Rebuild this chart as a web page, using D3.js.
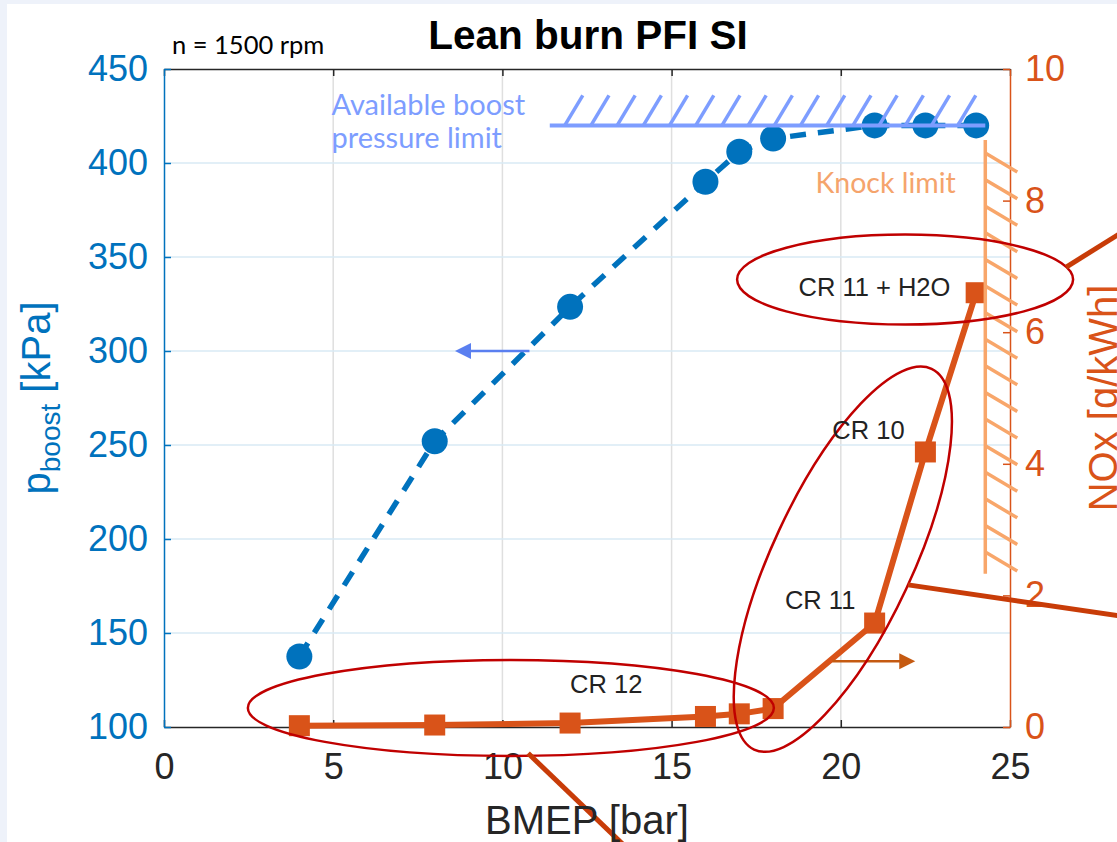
<!DOCTYPE html>
<html>
<head>
<meta charset="utf-8">
<script src="https://cdn.jsdelivr.net/npm/d3@7"></script>
<style>
  html, body { margin: 0; padding: 0; background: #eef2fa; }
  svg { display: block; }
  .sans { font-family: "Liberation Sans", Arial, Helvetica, sans-serif; }
  .cal { font-family: Lato, "Open Sans", sans-serif; }
</style>
</head>
<body>
<svg id="chart" width="1117" height="842"></svg>
<script>
// Engine operating points: brake mean effective pressure [bar]
const bmep = [4, 8, 12, 16, 17, 18, 21, 22.5, 24];
// Boost pressure [kPa] (left axis)
const pBoost = [137.5, 252, 323.5, 390, 406, 413, 420, 420, 420];
// NOx emissions [g/kWh] (right axis)
const nox = [0.02, 0.03, 0.06, 0.16, 0.2, 0.28, 1.58, 4.18, 6.6];

// Axis ticks
const xTicks = [0, 5, 10, 15, 20, 25];
const yLeftTicks = [100, 150, 200, 250, 300, 350, 400, 450];
const yRightTicks = [0, 2, 4, 6, 8, 10];

// Compression-ratio group labels [bmep, NOx]
const crLabels = [
  { text: "CR 12", x: 12.0, y: 0.52 },
  { text: "CR 11", x: 18.35, y: 1.8 },
  { text: "CR 10", x: 19.75, y: 4.37 },
  { text: "CR 11 + H2O", x: 18.75, y: 6.55 }
];

// Limits
const boostLimit = { p: 420, x0: 11.4, x1: 24.27 };
const knockLimit = { x: 24.27, n0: 8.92, n1: 2.33 };

const BLUE = "#0072BD";
const ORANGE = "#D95319";
const AXIS = "#262626";

const svg = d3.select("#chart");
svg.append("rect").attr("x", 7).attr("y", 4).attr("width", 1110).attr("height", 838).attr("fill", "#ffffff");

const x = d3.scaleLinear().domain([0, 25]).range([164, 1010]);
const yL = d3.scaleLinear().domain([100, 450]).range([727, 69]);
const yR = d3.scaleLinear().domain([0, 10]).range([727, 69]);

const L = x.range()[0], R = x.range()[1], T = yL.range()[1], B = yL.range()[0];

// Grid
const grid = svg.append("g");
grid.selectAll("line.gx").data(xTicks.filter(d => d > 0 && d < 25)).join("line")
  .attr("x1", d => x(d)).attr("x2", d => x(d)).attr("y1", T).attr("y2", B)
  .attr("stroke", "#dfdfdf").attr("stroke-width", 1.5);
grid.selectAll("line.gy").data(yLeftTicks.filter(d => d > 100 && d < 450)).join("line")
  .attr("x1", L).attr("x2", R).attr("y1", d => yL(d)).attr("y2", d => yL(d))
  .attr("stroke", "#d9eaf5").attr("stroke-width", 1.5);

// Axes
function styleAxis(g, color, size) {
  g.select(".domain").attr("stroke", color).attr("stroke-width", 1.5);
  g.selectAll(".tick line").attr("stroke", color).attr("stroke-width", 1.5);
  g.selectAll(".tick text").attr("fill", color).attr("class", "sans").attr("font-size", size);
}
const gx = svg.append("g").attr("transform", `translate(0,${B})`)
  .call(d3.axisBottom(x).tickValues(xTicks).tickSizeInner(-7).tickSizeOuter(0).tickPadding(26).tickFormat(d3.format("d")));
styleAxis(gx, AXIS, 36);

const gxTop = svg.append("g").attr("transform", `translate(0,${T})`)
  .call(d3.axisTop(x).tickValues(xTicks).tickSizeInner(-7).tickSizeOuter(0).tickFormat(""));
styleAxis(gxTop, AXIS, 36);

const gyL = svg.append("g").attr("transform", `translate(${L},0)`)
  .call(d3.axisLeft(yL).tickValues(yLeftTicks).tickSizeInner(-7).tickSizeOuter(0).tickPadding(16).tickFormat(d3.format("d")));
styleAxis(gyL, BLUE, 36);

const gyR = svg.append("g").attr("transform", `translate(${R},0)`)
  .call(d3.axisRight(yR).tickValues(yRightTicks).tickSizeInner(-7).tickSizeOuter(0).tickPadding(15).tickFormat(d3.format("d")));
styleAxis(gyR, ORANGE, 36);

// Boost pressure series: dashed line with filled circles
const lineL = d3.line().x((d, i) => x(bmep[i])).y(d => yL(d));
svg.append("path").datum(pBoost).attr("d", lineL)
  .attr("fill", "none").attr("stroke", BLUE).attr("stroke-width", 5.5)
  .attr("stroke-dasharray", "16 12");
svg.selectAll("circle.pb").data(pBoost).join("circle")
  .attr("cx", (d, i) => x(bmep[i])).attr("cy", d => yL(d)).attr("r", 13)
  .attr("fill", BLUE);

// NOx series: solid line with filled squares
const lineR = d3.line().x((d, i) => x(bmep[i])).y(d => yR(d));
svg.append("path").datum(nox).attr("d", lineR)
  .attr("fill", "none").attr("stroke", ORANGE).attr("stroke-width", 6).attr("stroke-linejoin", "round");
const sq = 21;
svg.selectAll("rect.nx").data(nox).join("rect")
  .attr("x", (d, i) => x(bmep[i]) - sq / 2).attr("y", d => yR(d) - sq / 2)
  .attr("width", sq).attr("height", sq).attr("fill", ORANGE);

// Boost pressure limit with hatching
const BL = "#7d9dff";
const bY = yL(boostLimit.p);
const ann = svg.append("g");
ann.append("line").attr("x1", x(boostLimit.x0)).attr("x2", x(boostLimit.x1))
  .attr("y1", bY).attr("y2", bY).attr("stroke", BL).attr("stroke-width", 4);
const hatchB = d3.range(16).map(i => x(boostLimit.x0) + 15 + i * 26.2);
ann.selectAll("line.hb").data(hatchB).join("line")
  .attr("x1", d => d).attr("y1", bY).attr("x2", d => d + 18).attr("y2", bY - 30)
  .attr("stroke", BL).attr("stroke-width", 3.5);

// Knock limit with hatching
const KL = "#f8a66a";
const kX = x(knockLimit.x);
ann.append("line").attr("x1", kX).attr("x2", kX)
  .attr("y1", yR(knockLimit.n0)).attr("y2", yR(knockLimit.n1))
  .attr("stroke", KL).attr("stroke-width", 3.5);
const hatchK = d3.range(16).map(i => yR(knockLimit.n0) + 13 + i * 26.6);
ann.selectAll("line.hk").data(hatchK).join("line")
  .attr("x1", kX).attr("y1", d => d).attr("x2", kX + 32).attr("y2", d => d + 19)
  .attr("stroke", KL).attr("stroke-width", 3.5);

// Axis direction arrows
function arrow(g, x0, x1, yy, color) {
  const dir = Math.sign(x1 - x0);
  g.append("line").attr("x1", x0).attr("x2", x1 - dir * 14).attr("y1", yy).attr("y2", yy)
    .attr("stroke", color).attr("stroke-width", 2.5);
  g.append("path").attr("d", `M${x1},${yy} L${x1 - dir * 16},${yy - 8} L${x1 - dir * 16},${yy + 8} Z`)
    .attr("fill", color);
}
arrow(ann, x(10.8), x(8.6), yL(300), "#5a7ff0");
arrow(ann, x(19.75), x(22.2), yR(1.0), "#c55a11");

// Group ellipses
const ER = "#c00000";
const ellipses = [
  { cx: 10.25, cy: 0.29, rx: 263, ry: 48, rot: 0 },
  { cx: 20.06, cy: 2.55, rx: 210, ry: 70, rot: -65 },
  { cx: 21.9, cy: 6.8, rx: 168, ry: 45, rot: 0 }
];
ann.selectAll("ellipse").data(ellipses).join("ellipse")
  .attr("transform", d => `translate(${x(d.cx)},${yR(d.cy)}) rotate(${d.rot})`)
  .attr("rx", d => d.rx).attr("ry", d => d.ry)
  .attr("fill", "none").attr("stroke", ER).attr("stroke-width", 2.5);

// Leader lines from the ellipses
const LC = "#c83c08";
const leaders = [
  [[26.66, 6.99], [28.5, 7.58]],
  [[21.99, 2.16], [28.5, 1.67]],
  [[10.76, -0.40], [13.9, -1.95]]
];
ann.selectAll("line.ld").data(leaders).join("line")
  .attr("x1", d => x(d[0][0])).attr("y1", d => yR(d[0][1]))
  .attr("x2", d => x(d[1][0])).attr("y2", d => yR(d[1][1]))
  .attr("stroke", LC).attr("stroke-width", 5);

// Group labels
ann.selectAll("text.cr").data(crLabels).join("text")
  .attr("class", "sans").attr("x", d => x(d.x)).attr("y", d => yR(d.y))
  .attr("font-size", 25.5).attr("fill", "#222").text(d => d.text);

// Limit labels
ann.append("text").attr("class", "cal").attr("x", x(4.95)).attr("y", 115)
  .attr("font-size", 29).attr("fill", "#7d9dff").text("Available boost");
ann.append("text").attr("class", "cal").attr("x", x(4.95)).attr("y", 148)
  .attr("font-size", 29).attr("fill", "#7d9dff").text("pressure limit");
ann.append("text").attr("class", "cal").attr("x", x(19.25)).attr("y", 193)
  .attr("font-size", 28.5).attr("fill", "#f5a46c").text("Knock limit");

// Titles and axis labels
svg.append("text").attr("class", "sans").attr("x", 588).attr("y", 49)
  .attr("text-anchor", "middle").attr("font-size", 40.5).attr("font-weight", "bold")
  .attr("fill", "#000").text("Lean burn PFI SI");
svg.append("text").attr("class", "cal").attr("x", 172).attr("y", 54)
  .attr("font-size", 25.5).attr("fill", "#000").text("n = 1500 rpm");

svg.append("text").attr("class", "sans").attr("x", (L + R) / 2).attr("y", 834)
  .attr("text-anchor", "middle").attr("font-size", 40).attr("fill", AXIS).text("BMEP [bar]");

const yl = svg.append("text").attr("class", "sans")
  .attr("transform", `translate(50,${(T + B) / 2}) rotate(-90)`)
  .attr("text-anchor", "middle").attr("font-size", 40).attr("fill", BLUE);
yl.append("tspan").text("p");
yl.append("tspan").attr("font-size", 28).attr("dy", 10).text("boost");
yl.append("tspan").attr("dy", -10).text(" [kPa]");

svg.append("text").attr("class", "sans")
  .attr("transform", `translate(1117,${(T + B) / 2}) rotate(-90)`)
  .attr("text-anchor", "middle").attr("font-size", 40).attr("fill", ORANGE).text("NOx [g/kWh]");
</script>
</body>
</html>
